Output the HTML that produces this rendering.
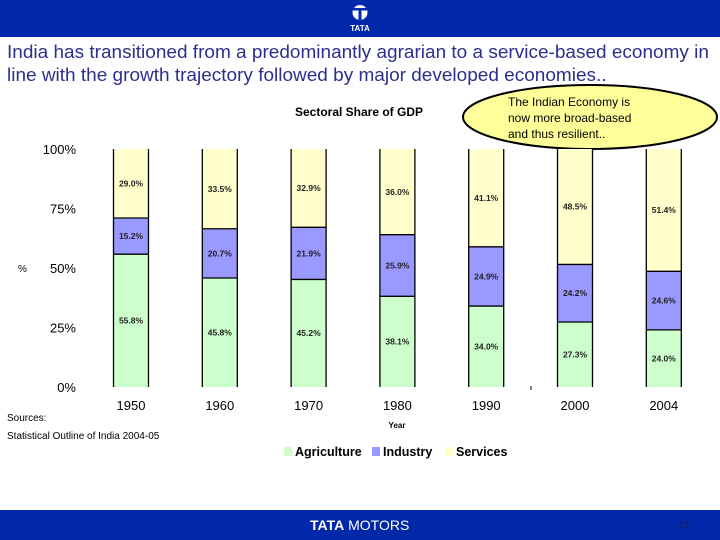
<!DOCTYPE html>
<html><head><meta charset="utf-8">
<style>
body{margin:0;width:720px;height:540px;overflow:hidden;background:#fff;font-family:"Liberation Sans",sans-serif;position:relative}
.hdr{position:absolute;left:0;top:0;width:720px;height:37px;background:#0028a8}
.ftr{position:absolute;left:0;top:510px;width:720px;height:30px;background:#0028a8}
.title{position:absolute;left:7px;top:41px;font-size:18px;line-height:23px;color:#2e2e8c;white-space:nowrap;transform:scaleX(1.055);transform-origin:0 0}
</style></head><body>
<div class="hdr">
<svg width="720" height="37">
<circle cx="360" cy="12.5" r="7.5" fill="#fff"/>
<rect x="353" y="8" width="14" height="2.5" fill="#0028a8"/>
<rect x="358.5" y="10.5" width="3" height="10" fill="#0028a8"/>
<text x="360" y="31" font-size="8" font-weight="bold" fill="#fff" text-anchor="middle" font-family="Liberation Sans">TATA</text>
</svg></div>
<div class="title">India has transitioned from a predominantly agrarian to a service-based economy in<br>line with the growth trajectory followed by major developed economies..</div>
<svg id="chart" width="720" height="540" style="position:absolute;left:0;top:0">
<ellipse cx="590" cy="117" rx="127" ry="32" fill="#ffff99" stroke="#000" stroke-width="2"/>
<text x="508" y="106" font-size="12" fill="#000"><tspan x="508">The Indian Economy is</tspan><tspan x="508" dy="16">now more broad-based</tspan><tspan x="508" dy="16">and thus resilient..</tspan></text>
<text x="359" y="116" font-size="12" font-weight="bold" text-anchor="middle">Sectoral Share of GDP</text>
<text x="18" y="272" font-size="10">%</text>
<text x="397" y="428" font-size="8" font-weight="bold" text-anchor="middle">Year</text>
<text x="7" y="421" font-size="10">Sources:</text>
<text x="7" y="439" font-size="10">Statistical Outline of India 2004-05</text>
<line x1="531" y1="386" x2="531" y2="390" stroke="#000"/>
<g id="bars"></g>
<g id="legend"></g>
</svg>
<div class="ftr">
<span style="position:absolute;left:310px;top:7px;color:#fff;font-size:14px"><b>TATA</b> MOTORS</span>
<span style="position:absolute;left:678px;top:10px;color:#1a1a60;font-size:10px">13</span>
</div>
<script>
const years=["1950","1960","1970","1980","1990","2000","2004"];
const agriculture=[55.8,45.8,45.2,38.1,34.0,27.3,24.0];
const industry=[15.2,20.7,21.9,25.9,24.9,24.2,24.6];
const services=[29.0,33.5,32.9,36.0,41.1,48.5,51.4];
const yTicks=[0,25,50,75,100];
const seriesNames=["Agriculture","Industry","Services"];
const colors=["#ccffcc","#9999ff","#ffffcc"];
const NS="http://www.w3.org/2000/svg";
const y0=387,y1=149,xStart=131,xStep=88.8,bw=35;
function y(v){return y0-(v/100)*(y0-y1);}
function x(i){return xStart+i*xStep;}
const svg=document.getElementById('chart'),g=document.getElementById('bars');
function mk(t,a,p){const e=document.createElementNS(NS,t);for(const k in a)e.setAttribute(k,a[k]);(p||g).appendChild(e);return e;}
yTicks.forEach(t=>{
 const e=mk('text',{x:76,y:y(t)+5,'font-size':13,'text-anchor':'end'});e.textContent=t+'%';
 
 
});
const series=[agriculture,industry,services];
years.forEach((yr,i)=>{
 const total=agriculture[i]+industry[i]+services[i];
 let acc=0;const cx=x(i);
 series.forEach((s,k)=>{
  const v=s[i]/total*100;
  const top=y(acc+v),bot=y(acc);
  const r=mk('rect',{x:cx-bw/2,y:top,width:bw,height:bot-top,fill:colors[k]});
  
  
  if(k>0){const l=mk('line',{x1:cx-bw/2,x2:cx+bw/2,y1:bot,y2:bot,stroke:'#000','stroke-width':1.3});
   
   }
  const t=mk('text',{x:cx,y:(top+bot)/2+3,'font-size':8.5,'font-weight':'bold','text-anchor':'middle',fill:'#222'});
  t.textContent=s[i].toFixed(1)+'%';
  
  
  acc+=v;
 });
 [cx-bw/2,cx+bw/2].forEach(xx=>{const l=mk('line',{x1:xx,x2:xx,y1:y1,y2:y0,stroke:'#000','stroke-width':1.3});
  
  });
 const lt=mk('text',{x:cx,y:410,'font-size':13,'text-anchor':'middle'});lt.textContent=yr;
 
 
});
const lg=document.getElementById('legend');const lx=[284,372,445];
seriesNames.forEach((n,k)=>{
 const r=mk('rect',{x:lx[k],y:447,width:8,height:9,fill:colors[k]},lg);
 
 
 const t=mk('text',{x:lx[k]+11,y:456,'font-size':12.5,'font-weight':'bold'},lg);t.textContent=n;
 
 
});
</script>
</body></html>
